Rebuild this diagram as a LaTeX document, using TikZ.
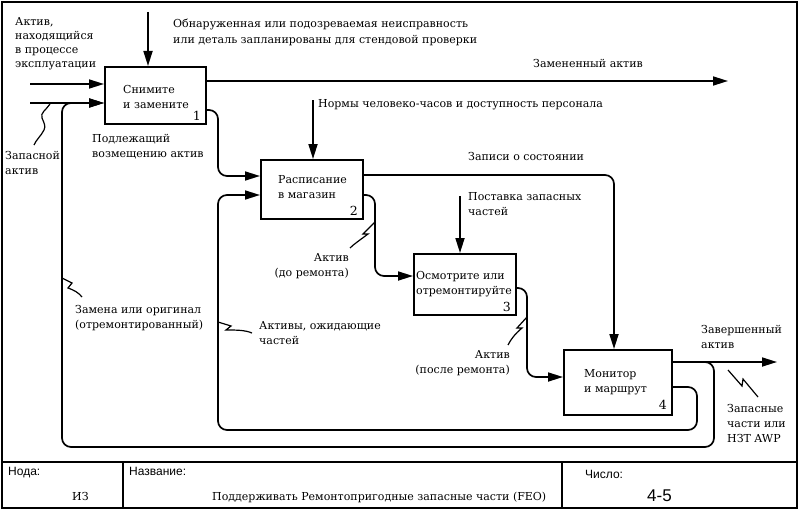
\documentclass[tikz,border=0pt]{standalone}
\usepackage{fontspec}
\setmainfont{DejaVu Serif}
\newfontfamily\plainsans{Liberation Sans}
\usetikzlibrary{arrows.meta}
\newcommand\LL[1]{\vtop{\halign{##\hfil\cr#1\crcr}}}
\newcommand\RR[1]{\vtop{\halign{\hfil##\cr#1\crcr}}}
\begin{document}
\begin{tikzpicture}[x=1pt,y=-1pt,
  box/.style={draw, line width=1.7pt, inner sep=0pt, anchor=north west},
  flow/.style={line width=1.7pt, rounded corners=9pt, -{Triangle[length=15pt,width=9pt]}},
  squig/.style={line width=1.2pt},
  lbl/.style={inner sep=0pt, font=\fontsize{11}{15}\selectfont},
  num/.style={inner sep=0pt, font=\fontsize{12.5}{14}\selectfont, anchor=base east},
  foot/.style={inner sep=0pt, font=\plainsans\fontsize{12}{14}\selectfont, anchor=base west}]
\useasboundingbox (0,0) rectangle (800,511);
% frame
\draw[line width=1.7pt] (2,2) rectangle (797,508);
\draw[line width=1.7pt] (2,462) -- (797,462);
\draw[line width=1.7pt] (123,462) -- (123,508);
\draw[line width=1.7pt] (562,462) -- (562,508);
% boxes
\node[box, minimum width=101pt, minimum height=57pt] (b1) at (104,66) {};
\node[box, minimum width=102pt, minimum height=59pt] (b2) at (260,159) {};
\node[box, minimum width=102pt, minimum height=61pt] (b3) at (413,253) {};
\node[box, minimum width=108pt, minimum height=65pt] (b4) at (563,349) {};
% box texts
\node[lbl, anchor=base west] (t1) at (123,93) {\LL{Снимите\cr и замените}};
\node[lbl, anchor=base west] (t2) at (278,183) {\LL{Расписание\cr в магазин}};
\node[lbl, anchor=base west] (t3) at (416,279) {\LL{Осмотрите или\cr отремонтируйте}};
\node[lbl, anchor=base west] (t4) at (584,377) {\LL{Монитор\cr и маршрут}};
\node[num] (n1) at (201,120) {1};
\node[num] (n2) at (358,215) {2};
\node[num] (n3) at (511,311) {3};
\node[num] (n4) at (667,409) {4};
% coordinates
\coordinate (in1) at (30,84);
\coordinate (in2) at (30,103);
\coordinate (c1) at (148,12);
\coordinate (o1) at (728,81);
\coordinate (r1) at (218,110);
\coordinate (k1) at (218,176);
\coordinate (c2) at (313,100);
\coordinate (r2) at (614,175);
\coordinate (r3) at (375,195);
\coordinate (k3) at (375,276);
\coordinate (c3) at (460,196);
\coordinate (r4) at (527,288);
\coordinate (k4) at (527,377);
\coordinate (o4) at (777,362);
\coordinate (j1) at (700,362);
\coordinate (u1) at (714,362);
\coordinate (u2) at (714,447);
\coordinate (u3) at (62,447);
\coordinate (u4) at (62,103);
\coordinate (r5) at (697,387);
\coordinate (v2) at (697,430);
\coordinate (v3) at (218,430);
\coordinate (v4) at (218,195);
% connectors
\draw[flow] (in1) -- (in1 -| b1.west);
\draw[flow] (in2) -- (in2 -| b1.west);
\draw[flow] (c1) -- (c1 |- b1.north);
\draw[flow] (b1.east |- o1) -- (o1);
\draw[flow] (b1.east |- r1) -- (r1) -- (k1) -- (k1 -| b2.west);
\draw[flow] (c2) -- (c2 |- b2.north);
\draw[flow] (b2.east |- r2) -- (r2) -- (r2 |- b4.north);
\draw[flow] (b2.east |- r3) -- (r3) -- (k3) -- (k3 -| b3.west);
\draw[flow] (c3) -- (c3 |- b3.north);
\draw[flow] (b3.east |- r4) -- (r4) -- (k4) -- (k4 -| b4.west);
\draw[flow] (b4.east |- o4) -- (o4);
\draw[flow] (j1) -- (u1) -- (u2) -- (u3) -- (u4) -- (u4 -| b1.west);
\draw[flow] (b4.east |- r5) -- (r5) -- (v2) -- (v3) -- (v4) -- (v4 -| b2.west);
% labels
\node[lbl, anchor=base west, font=\fontsize{11}{14}\selectfont] (l1) at (15,26) {\LL{Актив,\cr находящийся\cr в процессе\cr эксплуатации}};
\node[lbl, anchor=base west, font=\fontsize{11}{16}\selectfont] (l2) at (173,28) {\LL{Обнаруженная или подозреваемая неисправность\cr или деталь запланированы для стендовой проверки}};
\node[lbl, anchor=base west] (l3) at (533,67) {Замененный актив};
\node[lbl, anchor=base west] (l4) at (92,142) {\LL{Подлежащий\cr возмещению актив}};
\node[lbl, anchor=base west] (l5) at (5,159) {\LL{Запасной\cr актив}};
\node[lbl, anchor=base west] (l6) at (318,107) {Нормы человеко-часов и доступность персонала};
\node[lbl, anchor=base west] (l7) at (468,160) {Записи о состоянии};
\node[lbl, anchor=base west] (l8) at (468,200) {\LL{Поставка запасных\cr частей}};
\node[lbl, anchor=base east] (l9) at (349,261) {\RR{Актив\cr (до ремонта)}};
\node[lbl, anchor=base west] (l10) at (75,313) {\LL{Замена или оригинал\cr (отремонтированный)}};
\node[lbl, anchor=base west] (l11) at (259,329) {\LL{Активы, ожидающие\cr частей}};
\node[lbl, anchor=base east] (l12) at (510,358) {\RR{Актив\cr (после ремонта)}};
\node[lbl, anchor=base west] (l13) at (701,333) {\LL{Завершенный\cr актив}};
\node[lbl, anchor=base west] (l14) at (727,412) {\LL{Запасные\cr части или\cr НЗТ AWP}};
% squiggles
\coordinate (s1) at (50,104);
\draw[squig] (s1) .. controls (46,110) and (40,113) .. (42,118) .. controls (44,123) and (46,126) .. (44,130) .. controls (41,136) and (36,140) .. (34,145);
\coordinate (s2) at (375,222);
\draw[squig] (s2) -- (363,234) -- (368,234) .. controls (360,240) and (354,244) .. (350,248);
\coordinate (s3) at (527,317);
\draw[squig] (s3) -- (517,328) -- (522,328) .. controls (515,334) and (511,339) .. (508,345);
\coordinate (s4) at (218,322);
\draw[squig] (s4) -- (231,326) -- (226,330) .. controls (236,330) and (245,330) .. (252,333);
\coordinate (s5) at (62,278);
\draw[squig] (s5) -- (72,283) -- (68,288) .. controls (74,290) and (79,293) .. (82,297);
\coordinate (s6) at (728,370);
\draw[squig] (s6) -- (742,386) -- (743,379) -- (758,397);
% footer
\node[foot] (f1) at (8,475) {Нода:};
\node[lbl, anchor=base west] (f2) at (72,500) {ИЗ};
\node[foot] (f3) at (129,475) {Название:};
\node[lbl, anchor=base west] (f4) at (212,500) {Поддерживать Ремонтопригодные запасные части (FEO)};
\node[foot] (f5) at (585,478) {Число:};
\node[foot, font=\plainsans\fontsize{17}{19}\selectfont] (f6) at (647,501) {4-5};
\end{tikzpicture}
\end{document}
